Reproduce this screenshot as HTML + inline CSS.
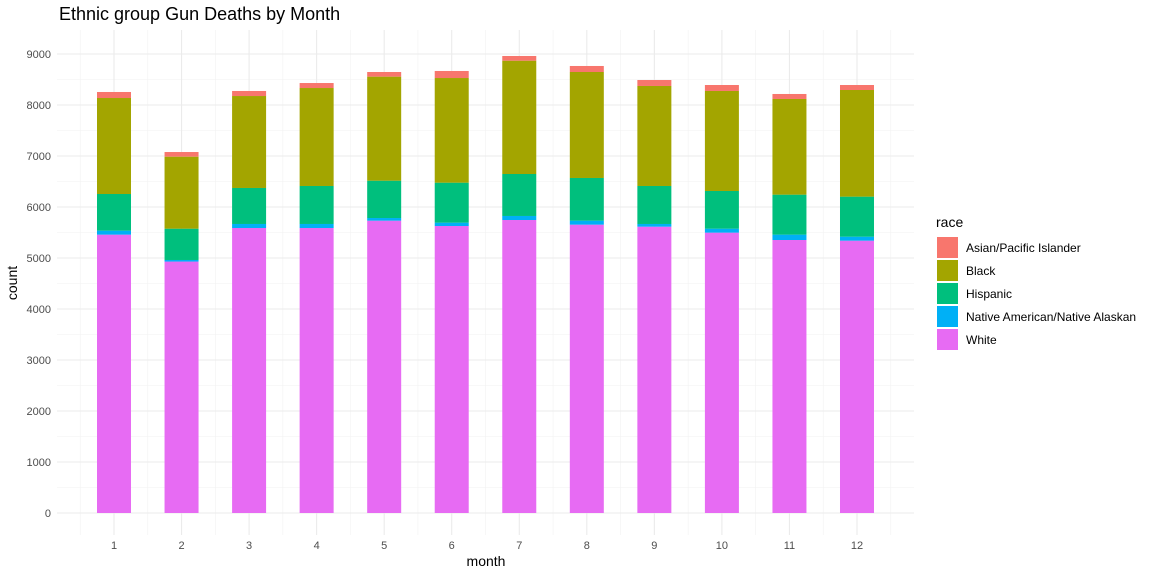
<!DOCTYPE html>
<html><head><meta charset="utf-8"><style>
body{margin:0;background:#fff;font-family:"Liberation Sans",sans-serif;}
svg text{font-family:"Liberation Sans",sans-serif;}
</style></head><body>
<svg id="chart" width="1152" height="576" xmlns="http://www.w3.org/2000/svg">
<rect width="1152" height="576" fill="#fff"/>
<text x="59" y="20" font-size="18" fill="#000">Ethnic group Gun Deaths by Month</text>
<g id="grid"></g><g id="bars"></g><g id="axes"></g><g id="legend"></g>
<text x="486" y="566" font-size="14" text-anchor="middle">month</text>
<text x="17" y="283" font-size="14" text-anchor="middle" transform="rotate(-90 17 283)">count</text>
</svg>
<script>
const months = [1,2,3,4,5,6,7,8,9,10,11,12];
const races = ["White","Native American/Native Alaskan","Hispanic","Black","Asian/Pacific Islander"];
const colors = ["#E76BF3","#00B0F6","#00BF7D","#A3A500","#F8766D"];
const white = [5458,4930,5588,5588,5732,5627,5745,5654,5614,5497,5353,5340];
const native = [78,31,79,79,52,66,79,78,53,78,105,78];
const hispanic = [719,614,706,745,732,784,823,837,745,739,784,785];
const black = [1882,1412,1803,1921,2040,2052,2222,2078,1961,1961,1876,2091];
const asian = [118,91,99,98,91,138,92,118,117,117,98,98];
const yTicks = [0,1000,2000,3000,4000,5000,6000,7000,8000,9000];
const series = [white,native,hispanic,black,asian];

const NS="http://www.w3.org/2000/svg";
const xS = m => 114 + (m-1)*67.545;
const yS = v => 513 - v*0.051;
const bw = 34;
function mk(tag, attrs, parent){const e=document.createElementNS(NS,tag);for(const k in attrs)e.setAttribute(k,attrs[k]);parent.appendChild(e);return e;}
const grid=document.getElementById('grid'), bars=document.getElementById('bars'), axes=document.getElementById('axes'), legend=document.getElementById('legend');
const pTop=30, pBot=535, pLeft=57, pRight=914;
for(let i=0;i<yTicks.length;i++){
  const v=yTicks[i]+500; if(yS(v)>pTop){const l=mk('line',{x1:pLeft,x2:pRight,y1:yS(v),y2:yS(v),stroke:'#f2f2f2','stroke-width':0.6},grid);
  
  }
}
for(let m=0.5;m<=12.5;m+=1){const l=mk('line',{x1:xS(m),x2:xS(m),y1:pTop,y2:pBot,stroke:'#f2f2f2','stroke-width':0.6},grid);
  
  }
yTicks.forEach(v=>{const l=mk('line',{x1:pLeft,x2:pRight,y1:yS(v),y2:yS(v),stroke:'#ebebeb','stroke-width':1.1},grid);
  
  
  const t=mk('text',{x:51,y:yS(v)+4,'font-size':11,'text-anchor':'end',fill:'#4d4d4d'},axes);t.textContent=v;
  
  });
months.forEach(m=>{const l=mk('line',{x1:xS(m),x2:xS(m),y1:pTop,y2:pBot,stroke:'#ebebeb','stroke-width':1.1},grid);
  
  
  const t=mk('text',{x:xS(m),y:549,'font-size':11,'text-anchor':'middle',fill:'#4d4d4d'},axes);t.textContent=m;
  
  });
months.forEach((m,i)=>{let cum=0;
  series.forEach((s,j)=>{const v0=cum;cum+=s[i];
    const r=mk('rect',{x:xS(m)-bw/2,y:yS(cum),width:bw,height:yS(v0)-yS(cum),fill:colors[j]},bars);
    
    });});
const lt=mk('text',{x:936,y:227,'font-size':14},legend);lt.textContent='race';


const order=[4,3,2,1,0];
order.forEach((j,k)=>{const yy=237+k*23;
  const r=mk('rect',{x:937,y:yy,width:21,height:21,fill:colors[j]},legend);
  
  
  const t=mk('text',{x:966,y:yy+15,'font-size':12,fill:'#000'},legend);t.textContent=races[j];
  
  });
</script>
</body></html>
